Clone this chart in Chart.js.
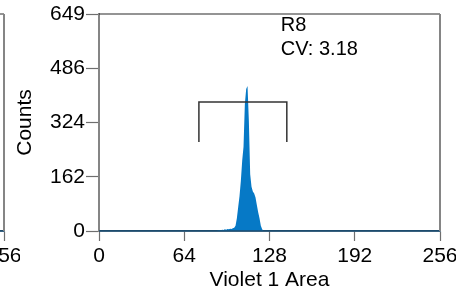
<!DOCTYPE html>
<html><head><meta charset="utf-8">
<script src="https://cdn.jsdelivr.net/npm/chart.js@4"></script>
<style>
html,body{margin:0;padding:0;background:#fff;overflow:hidden;width:456px;height:291px;}
.c{position:absolute;top:0;width:456px;height:291px;}
</style></head><body>
<div class="c" style="left:-436px"><canvas id="prev" width="456" height="291"></canvas></div>
<div class="c" style="left:0"><canvas id="main" width="456" height="291"></canvas></div>
<script>
// ---- data ----
const xTickValues = [0, 64, 128, 192, 256];
const yTickValues = [0, 162, 324, 486, 649];
const xTitle = 'Violet 1 Area';
const yTitle = 'Counts';
// histogram bins (lower edge, width 1 channel) and counts
const bins = [88,89,90,91,92,93,94,95,96,97,98,99,100,101,102,103,104,105,106,107,108,109,110,111,112,113,114,115,116,117,118,119,120,121,122,123];
const counts = [0,2,3,2,4,3,5,4,6,5,7,6,8,10,16,38,72,105,150,210,252,380,425,434,330,170,132,118,112,100,78,56,38,16,5,0];
// gate R8
const gateRange = [75, 141];
const gateLevels = [386, 266]; // bar level, leg end
const gateLines = ['R8', 'CV: 3.18'];
const gateTextPos = [136.5, 597, 527]; // x, baseline y line1, baseline y line2

const FONT = "'Liberation Sans', Arial, sans-serif";
const BIN_W = 1;

const framePlugin = {
  id: 'frame',
  afterDraw(chart) {
    const {ctx, chartArea: a} = chart;
    ctx.save();
    ctx.strokeStyle = '#2a2a2a'; ctx.lineWidth = 1.2;
    ctx.beginPath(); ctx.moveTo(a.left, a.top); ctx.lineTo(a.right, a.top); ctx.stroke();
    ctx.strokeStyle = '#858585'; ctx.lineWidth = 2;
    ctx.beginPath(); ctx.moveTo(a.right, a.top); ctx.lineTo(a.right, a.bottom); ctx.stroke();
    ctx.restore();
  }
};
const baselinePlugin = {
  id: 'baseline',
  afterDatasetsDraw(chart) {
    const {ctx} = chart; const xs = chart.scales.x, ys = chart.scales.y;
    const y0 = ys.getPixelForValue(0);
    ctx.save();
    ctx.strokeStyle = '#1d4b6e'; ctx.lineWidth = 1.6;
    ctx.beginPath(); ctx.moveTo(xs.getPixelForValue(xTickValues[0]), y0);
    ctx.lineTo(xs.getPixelForValue(xTickValues[xTickValues.length-1]), y0); ctx.stroke();
    ctx.restore();
  }
};
const gatePlugin = {
  id: 'gate',
  afterDatasetsDraw(chart) {
    const {ctx} = chart; const xs = chart.scales.x, ys = chart.scales.y;
    const x1 = xs.getPixelForValue(gateRange[0]), x2 = xs.getPixelForValue(gateRange[1]);
    const yb = ys.getPixelForValue(gateLevels[0]), yl = ys.getPixelForValue(gateLevels[1]);
    ctx.save();
    ctx.strokeStyle = '#333'; ctx.lineWidth = 1.5;
    ctx.beginPath();
    ctx.moveTo(x1, yl); ctx.lineTo(x1, yb); ctx.lineTo(x2, yb); ctx.lineTo(x2, yl);
    ctx.stroke();
    ctx.fillStyle = '#000'; ctx.font = '20px ' + FONT; ctx.textBaseline = 'alphabetic'; ctx.textAlign = 'left';
    const tx = xs.getPixelForValue(gateTextPos[0]);
    ctx.fillText(gateLines[0], tx, ys.getPixelForValue(gateTextPos[1]));
    ctx.fillText(gateLines[1], tx, ys.getPixelForValue(gateTextPos[2]));
    ctx.restore();
  }
};

function makeConfig(points, extraPlugins) {
  return {
    type: 'line',
    data: { datasets: [{
      data: points,
      parsing: false,
      fill: 'origin',
      backgroundColor: '#0679c6',
      borderColor: '#0679c6',
      borderWidth: 0,
      pointRadius: 0,
      tension: 0
    }]},
    options: {
      responsive: false, animation: false, devicePixelRatio: 1,
      layout: { padding: { left: 0, right: 16, top: 14, bottom: 0 } },
      plugins: { legend: { display: false }, tooltip: { enabled: false } },
      scales: {
        x: {
          type: 'linear', min: xTickValues[0], max: xTickValues[xTickValues.length-1],
          afterBuildTicks(s) { s.ticks = xTickValues.map(v => ({ value: v })); },
          afterFit(s) { s.height = 60; s.paddingLeft = 0; s.paddingRight = 0; },
          ticks: { color: '#000', font: { family: FONT, size: 21 }, padding: 3, maxRotation: 0, autoSkip: false,
                   callback: v => String(v) },
          grid: { drawOnChartArea: false, drawTicks: true, tickLength: 10, tickColor: '#6e6e6e', tickWidth: 1.2 },
          border: { display: true, color: '#1d4b6e', width: 1.6 },
          title: { display: true, text: xTitle, color: '#000', font: { family: FONT, size: 21, lineHeight: 1 }, padding: { top: 0, bottom: 0 } }
        },
        y: {
          type: 'linear', min: yTickValues[0], max: yTickValues[yTickValues.length-1],
          afterBuildTicks(s) { s.ticks = yTickValues.map(v => ({ value: v })); },
          afterFit(s) { s.width = 99; s.paddingTop = 0; s.paddingBottom = 0; },
          ticks: { color: '#000', font: { family: FONT, size: 21 }, padding: 1, autoSkip: false,
                   callback: v => String(v) },
          grid: { drawOnChartArea: false, drawTicks: true, tickLength: 13, tickColor: '#6e6e6e', tickWidth: 1.2 },
          border: { display: true, color: '#858585', width: 2 },
          title: { display: true, text: yTitle, color: '#000', font: { family: FONT, size: 21, lineHeight: 1.2 }, padding: { top: 13, bottom: 0 } }
        }
      }
    },
    plugins: [framePlugin, baselinePlugin].concat(extraPlugins)
  };
}

const mainPoints = bins.map((b, i) => ({ x: b + BIN_W / 2, y: counts[i] }));
new Chart(document.getElementById('main'), makeConfig(mainPoints, [gatePlugin]));
new Chart(document.getElementById('prev'), makeConfig([], []));
</script>
</body></html>
